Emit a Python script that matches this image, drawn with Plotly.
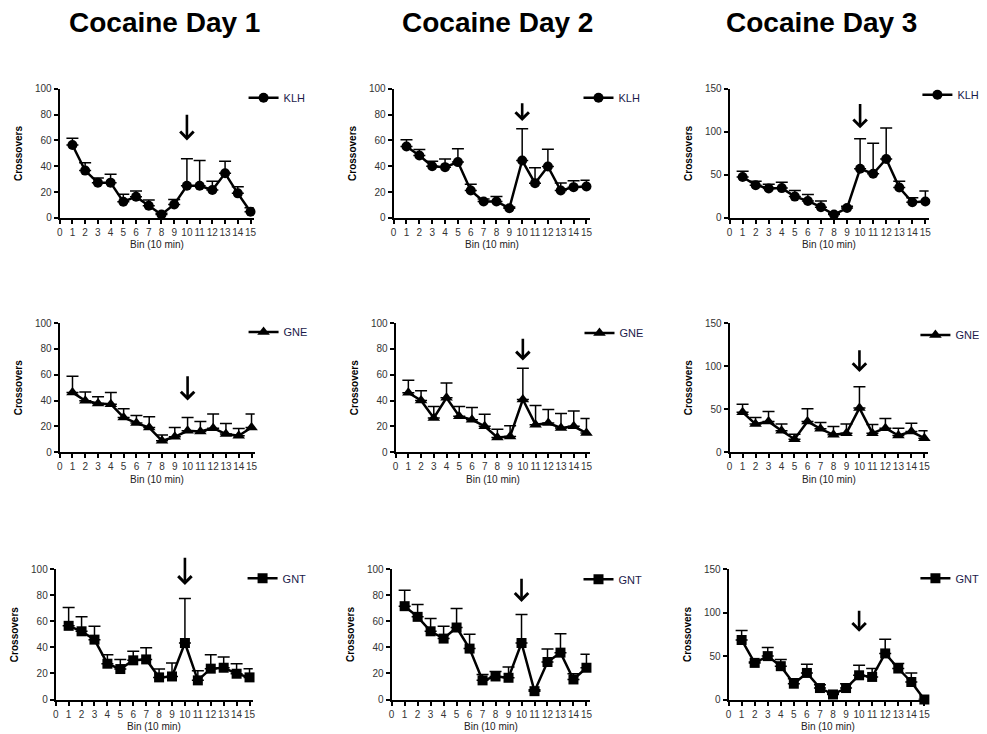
import plotly.graph_objects as go

bins = list(range(1, 16))
x_tick_vals = list(range(0, 16))
y_ticks_100 = [0, 20, 40, 60, 80, 100]
y_ticks_150 = [0, 50, 100, 150]

day_titles = ["Cocaine Day 1", "Cocaine Day 2", "Cocaine Day 3"]
groups = ["KLH", "GNE", "GNT"]

# mean values (Crossovers) per bin
day1_klh_mean = [56.4, 36.6, 27.3, 27.3, 12.5, 16.4, 9.4, 2.6, 10.4, 24.9, 24.9, 21.6, 34.5, 19.0, 4.7]
day1_klh_sem = [5.2, 6.0, 3.6, 6.5, 5.9, 4.4, 4.4, 1.0, 3.9, 20.8, 19.5, 6.7, 9.4, 5.2, 3.1]
day2_klh_mean = [55.3, 48.3, 40.0, 39.3, 43.2, 21.2, 12.7, 12.7, 7.5, 44.4, 26.9, 39.8, 21.2, 23.8, 24.3]
day2_klh_sem = [5.2, 4.7, 3.9, 6.2, 10.3, 4.9, 2.0, 3.8, 1.0, 24.6, 11.9, 13.4, 5.9, 4.9, 4.9]
day3_klh_mean = [47.5, 38.0, 34.2, 34.6, 24.7, 19.7, 12.5, 3.8, 11.4, 57.0, 51.3, 68.4, 35.3, 18.2, 19.0]
day3_klh_sem = [6.8, 4.5, 4.9, 6.8, 7.2, 7.6, 7.2, 1.5, 2.0, 34.9, 35.3, 36.0, 7.2, 5.3, 12.1]

day1_gne_mean = [46.3, 39.8, 37.7, 37.2, 26.9, 22.5, 19.1, 8.8, 11.9, 16.5, 16.0, 18.6, 14.0, 12.7, 19.1]
day1_gne_sem = [12.4, 6.7, 5.2, 9.1, 6.7, 5.9, 8.3, 4.6, 7.2, 10.4, 7.8, 10.9, 8.2, 5.6, 10.4]
day2_gne_mean = [46.0, 40.0, 26.5, 42.1, 27.8, 25.2, 20.0, 11.4, 12.2, 40.8, 21.3, 22.6, 18.7, 20.0, 14.8]
day2_gne_sem = [9.6, 7.5, 8.8, 11.4, 7.5, 9.3, 9.4, 6.3, 8.3, 24.1, 14.8, 10.4, 11.2, 11.9, 11.2]
day3_gne_mean = [46.5, 32.6, 35.7, 24.8, 15.1, 35.7, 27.1, 20.2, 22.1, 51.2, 22.1, 27.9, 19.4, 24.0, 16.3]
day3_gne_sem = [9.3, 7.7, 11.6, 7.8, 5.8, 14.7, 7.4, 9.6, 10.5, 24.8, 10.1, 11.2, 8.5, 9.7, 8.5]

day1_gnt_mean = [56.6, 52.4, 46.0, 27.5, 23.4, 30.1, 30.8, 17.0, 17.7, 43.4, 14.7, 23.7, 24.4, 19.8, 17.0]
day1_gnt_sem = [14.1, 11.1, 10.3, 6.9, 7.4, 6.9, 9.0, 6.4, 10.3, 34.2, 7.4, 10.7, 8.2, 7.7, 6.7]
day2_gnt_mean = [71.7, 63.5, 52.4, 46.8, 55.3, 39.1, 14.7, 17.7, 16.7, 43.4, 6.4, 28.8, 36.0, 15.4, 24.4]
day2_gnt_sem = [12.3, 9.5, 9.8, 9.5, 14.6, 11.0, 4.6, 3.9, 8.2, 21.9, 1.0, 10.0, 14.6, 4.4, 10.3]
day3_gnt_mean = [68.6, 42.2, 50.0, 38.4, 18.2, 30.6, 13.2, 5.8, 13.2, 27.9, 26.0, 53.1, 35.7, 20.2, 0.0]
day3_gnt_sem = [10.9, 1.0, 10.0, 7.7, 5.8, 10.1, 3.8, 1.0, 5.0, 11.6, 9.7, 16.3, 5.8, 10.4, 0.0]

# arrow (injection marker) at bin 10: tail and tip values per panel
arrow_bin = 10
arrow_tail = [[81, 90, 134], [60, 89, 120], [110, 94, 104]]
arrow_tip = [[60, 75, 104], [40, 71, 93], [88, 75, 78]]

means = [[day1_klh_mean, day2_klh_mean, day3_klh_mean],
         [day1_gne_mean, day2_gne_mean, day3_gne_mean],
         [day1_gnt_mean, day2_gnt_mean, day3_gnt_mean]]
sems = [[day1_klh_sem, day2_klh_sem, day3_klh_sem],
        [day1_gne_sem, day2_gne_sem, day3_gne_sem],
        [day1_gnt_sem, day2_gnt_sem, day3_gnt_sem]]
symbols = ["circle", "triangle-up", "square"]
sizes = [10, 11, 10]

# the page body has an 8px margin: size the figure to fit the window
PAGE_W, PAGE_H, OFF = 987, 734, 8
W, H = PAGE_W - OFF, PAGE_H - OFF


def fx(p):
    return (p - OFF) / W


def fy(p):
    q = (p - 5.5) / 0.9836
    return 1 - (q - OFF) / H


# layout in window pixels: left edge (x=0), position of x=15, top, bottom
col_left = [[57, 393, 731], [57, 395, 731], [53, 391, 730]]
col_x15 = [[249, 587, 928], [250, 587, 927], [248, 587, 927]]
row_top = [89, 323, 569]
row_bot = [218, 452, 699]
legend_text_x = [[284, 621, 962], [284, 622, 960], [283, 621, 960]]
legend_y = [[98, 98, 95], [332, 333, 335], [578, 579, 578]]
title_x = [162, 497, 824]

FONT = "Liberation Sans, Arial, sans-serif"

fig = go.Figure()
annotations = []
layout = {}
for r in range(3):
    for c in range(3):
        k = r * 3 + c + 1
        xa = "xaxis" if k == 1 else f"xaxis{k}"
        ya = "yaxis" if k == 1 else f"yaxis{k}"
        xr = "x" if k == 1 else f"x{k}"
        yr = "y" if k == 1 else f"y{k}"
        lg = "legend" if k == 1 else f"legend{k}"
        L = col_left[r][c]
        R = L + (col_x15[r][c] - L) * 15.25 / 15
        ymax = 150 if c == 2 else 100
        layout[xa] = dict(
            domain=[fx(L), fx(R)], range=[0, 15.25], anchor=yr,
            tickmode="array", tickvals=x_tick_vals, ticks="outside", ticklen=4,
            tickwidth=1.5, tickcolor="black", showline=True, linecolor="black",
            linewidth=2, showgrid=False, zeroline=False, tickangle=0,
            tickfont=dict(family=FONT, size=10, color="#333"))
        layout[ya] = dict(
            domain=[fy(row_bot[r]), fy(row_top[r])], range=[0, ymax], anchor=xr,
            tickmode="array", tickvals=(y_ticks_150 if c == 2 else y_ticks_100),
            ticks="outside", ticklen=4, tickwidth=1.5, tickcolor="black",
            showline=True, linecolor="black", linewidth=2, showgrid=False,
            zeroline=False, tickfont=dict(family=FONT, size=10, color="#333"))
        fig.add_trace(go.Scatter(
            x=bins, y=means[r][c], mode="lines+markers", name=groups[r],
            xaxis=xr, yaxis=yr, legend=lg, cliponaxis=False, showlegend=True,
            line=dict(color="black", width=2.5),
            marker=dict(symbol=symbols[r], size=sizes[r], color="black"),
            error_y=dict(type="data", symmetric=False, array=sems[r][c],
                         arrayminus=[0] * len(bins), width=6, thickness=1.5,
                         color="black")))
        layout[lg] = dict(
            x=fx(legend_text_x[r][c] - 42), y=fy(legend_y[r][c]),
            xanchor="left", yanchor="middle",
            bgcolor="rgba(0,0,0,0)", visible=True,
            font=dict(family=FONT, size=11, color="#1a1a4a"))
        annotations.append(dict(
            x=arrow_bin, y=arrow_tip[r][c], ax=arrow_bin, ay=arrow_tail[r][c],
            xref=xr, yref=yr, axref=xr, ayref=yr, text="", showarrow=True,
            arrowhead=4, arrowsize=1, arrowwidth=2.6, arrowcolor="black"))
        annotations.append(dict(
            x=0, y=0.5, xref=f"{xr} domain", yref=f"{yr} domain", xshift=-41,
            text="<b>Crossovers</b>", textangle=-90, showarrow=False,
            xanchor="center", yanchor="middle",
            font=dict(family=FONT, size=10, color="black")))
        annotations.append(dict(
            x=0.5, y=0, xref=f"{xr} domain", yref=f"{yr} domain", yshift=-27,
            text="Bin (10 min)", showarrow=False, xanchor="center",
            yanchor="middle", font=dict(family=FONT, size=10, color="#222")))

for c in range(3):
    annotations.append(dict(
        x=fx(title_x[c]), y=fy(23), xref="paper", yref="paper",
        text=f"<b>{day_titles[c]}</b>", showarrow=False, xanchor="center",
        yanchor="middle", font=dict(family=FONT, size=28, color="black")))

fig.update_layout(
    width=W, height=H, margin=dict(l=0, r=0, t=0, b=0), showlegend=True,
    paper_bgcolor="white", plot_bgcolor="white",
    annotations=annotations, **layout)

fig.write_html("out.html")
